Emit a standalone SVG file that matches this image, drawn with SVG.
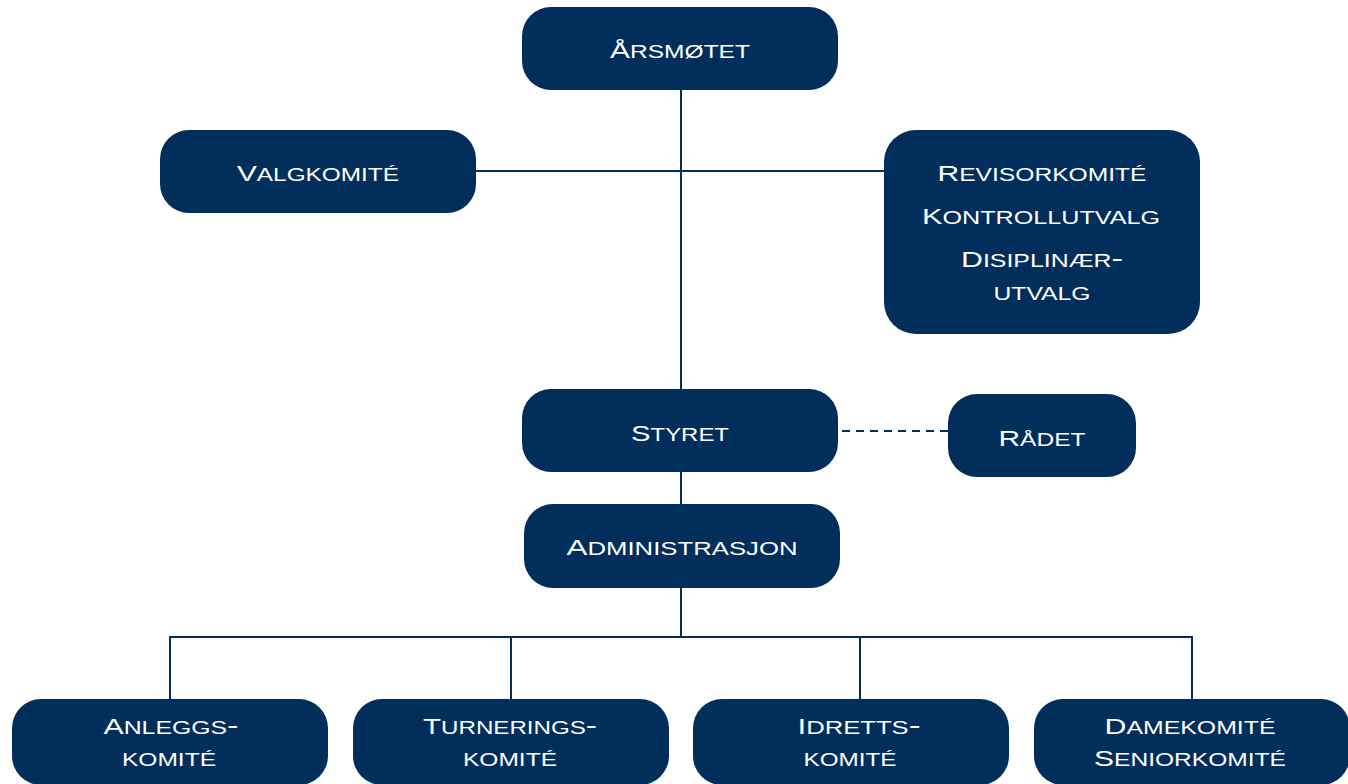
<svg xmlns="http://www.w3.org/2000/svg" width="1348" height="784" viewBox="0 0 1348 784">
<style>
.box{fill:#012e5a;}
.lbl{fill:#ffffff;font-family:"Liberation Sans",Arial,sans-serif;font-size:25px;font-variant:small-caps;text-anchor:middle;}
.c{font-size:22px;font-variant:normal;}
.ln{stroke:#012e5a;stroke-width:2;fill:none;}
.dash{stroke:#012e5a;stroke-width:2;fill:none;stroke-dasharray:8 6;}
</style>
<rect width="1348" height="784" fill="#ffffff"/>
<g id="connectors">
<line class="ln" x1="681" y1="90" x2="681" y2="389"/>
<line class="ln" x1="476" y1="171" x2="884" y2="171"/>
<line class="ln" x1="681" y1="472" x2="681" y2="504"/>
<line class="ln" x1="681" y1="588" x2="681" y2="637"/>
<polyline class="ln" points="170,699 170,637 1192,637 1192,699"/>
<line class="ln" x1="511" y1="637" x2="511" y2="699"/>
<line class="ln" x1="860" y1="637" x2="860" y2="699"/>
<line class="dash" x1="842" y1="431" x2="948" y2="431"/>
</g>
<g id="arsmotet"><rect class="box" x="522" y="7" width="316" height="83" rx="29"/><text class="lbl" x="680" y="58" textLength="140" lengthAdjust="spacingAndGlyphs"><tspan class="c">Å</tspan>rsmøtet</text></g>
<g id="valgkomite"><rect class="box" x="160" y="130" width="316" height="83" rx="29"/><text class="lbl" x="318" y="181" textLength="162" lengthAdjust="spacingAndGlyphs"><tspan class="c">V</tspan>algkomité</text></g>
<g id="revisor"><rect class="box" x="884" y="130" width="316" height="204" rx="32"/>
<text class="lbl" x="1042" y="181" textLength="209" lengthAdjust="spacingAndGlyphs"><tspan class="c">R</tspan>evisorkomité</text>
<text class="lbl" x="1041" y="224" textLength="238" lengthAdjust="spacingAndGlyphs"><tspan class="c">K</tspan>ontrollutvalg</text>
<text class="lbl" x="1042" y="267" textLength="162" lengthAdjust="spacingAndGlyphs"><tspan class="c">D</tspan>isiplinær-</text>
<text class="lbl" x="1042" y="300" textLength="97" lengthAdjust="spacingAndGlyphs">utvalg</text></g>
<g id="styret"><rect class="box" x="522" y="389" width="316" height="83" rx="29"/><text class="lbl" x="680" y="441" textLength="98" lengthAdjust="spacingAndGlyphs"><tspan class="c">S</tspan>tyret</text></g>
<g id="radet"><rect class="box" x="948" y="394" width="188" height="83" rx="29"/><text class="lbl" x="1042" y="446" textLength="87" lengthAdjust="spacingAndGlyphs"><tspan class="c">R</tspan>ådet</text></g>
<g id="administrasjon"><rect class="box" x="524" y="504" width="316" height="84" rx="29"/><text class="lbl" x="682" y="555" textLength="231" lengthAdjust="spacingAndGlyphs"><tspan class="c">A</tspan>dministrasjon</text></g>
<g id="anlegg"><rect class="box" x="12" y="699" width="316" height="86" rx="29"/>
<text class="lbl" x="171" y="734" textLength="135" lengthAdjust="spacingAndGlyphs"><tspan class="c">A</tspan>nleggs-</text>
<text class="lbl" x="169" y="766" textLength="94" lengthAdjust="spacingAndGlyphs">komité</text></g>
<g id="turnering"><rect class="box" x="353" y="699" width="316" height="86" rx="29"/>
<text class="lbl" x="510" y="734" textLength="174" lengthAdjust="spacingAndGlyphs"><tspan class="c">T</tspan>urnerings-</text>
<text class="lbl" x="510" y="766" textLength="94" lengthAdjust="spacingAndGlyphs">komité</text></g>
<g id="idrett"><rect class="box" x="693" y="699" width="316" height="86" rx="29"/>
<text class="lbl" x="859" y="734" textLength="123" lengthAdjust="spacingAndGlyphs"><tspan class="c">I</tspan>dretts-</text>
<text class="lbl" x="850" y="766" textLength="93" lengthAdjust="spacingAndGlyphs">komité</text></g>
<g id="dame"><rect class="box" x="1034" y="699" width="316" height="86" rx="29"/>
<text class="lbl" x="1190" y="734" textLength="171" lengthAdjust="spacingAndGlyphs"><tspan class="c">D</tspan>amekomité</text>
<text class="lbl" x="1190" y="766" textLength="192" lengthAdjust="spacingAndGlyphs"><tspan class="c">S</tspan>eniorkomité</text></g>
</svg>
